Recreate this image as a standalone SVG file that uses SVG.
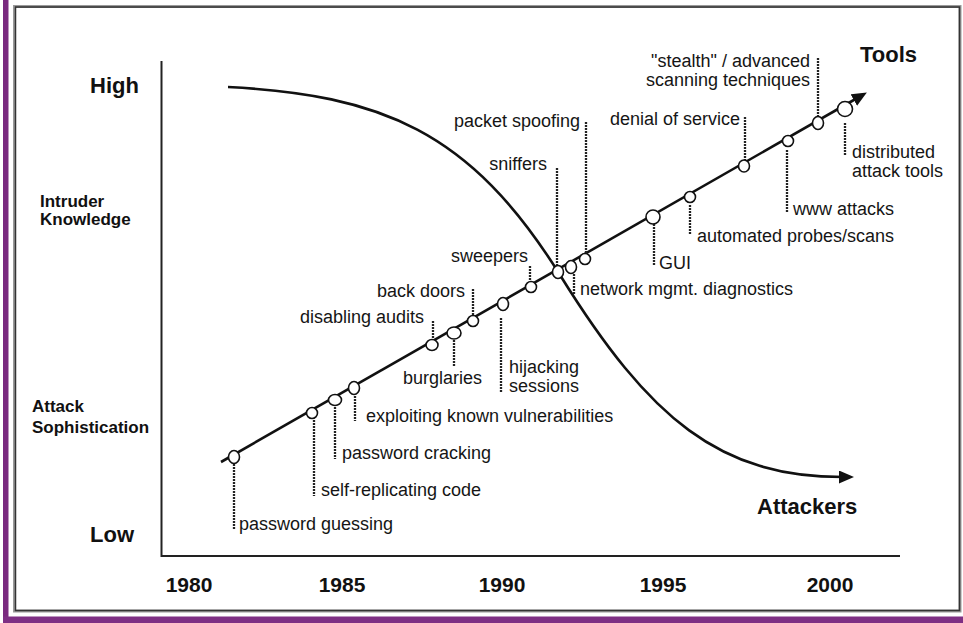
<svg xmlns="http://www.w3.org/2000/svg" width="963" height="623" viewBox="0 0 963 623">
<style>
.lbl{font-family:"Liberation Sans",Arial,sans-serif;font-size:18px;fill:#151515}
.bold{font-family:"Liberation Sans",Arial,sans-serif;font-weight:bold;fill:#111}
.dash{stroke:#222;stroke-width:2.3;stroke-dasharray:2 1;fill:none}
.dot{fill:#fff;stroke:#111;stroke-width:1.6}
.main{fill:none;stroke:#111;stroke-width:2.6}
.axis{stroke:#222;stroke-width:2;fill:none}
</style>
<defs>
<marker id="ah" markerUnits="userSpaceOnUse" markerWidth="18" markerHeight="14" refX="4" refY="6.5" orient="auto">
<path d="M0,0 L15,6.5 L0,13 z" fill="#111"/>
</marker>
</defs>
<rect width="963" height="623" fill="#fff"/>
<!-- purple border -->
<rect x="3" y="0" width="5.5" height="623" fill="#7a2a7f"/>
<rect x="3" y="616.5" width="960" height="6.5" fill="#7e2f84"/>
<!-- frame -->
<rect x="14.5" y="6.5" width="945.5" height="604.5" fill="none" stroke="#9a9a9a" stroke-width="3"/>
<rect x="15.5" y="7" width="944" height="603.5" fill="none" stroke="#333" stroke-width="1.5"/>

<g id="axes">
<path class="axis" d="M161.5,61 V556 H900"/>
<text class="bold" x="90" y="93" font-size="22">High</text>
<text class="bold" x="90" y="542" font-size="22">Low</text>
<text class="bold" x="40" y="207" font-size="17">Intruder</text>
<text class="bold" x="40" y="225" font-size="17">Knowledge</text>
<text class="bold" x="32" y="412" font-size="17">Attack</text>
<text class="bold" x="32" y="433" font-size="17">Sophistication</text>
<g font-size="21" text-anchor="middle">
<text class="bold" x="189" y="592">1980</text>
<text class="bold" x="342" y="592">1985</text>
<text class="bold" x="502" y="592">1990</text>
<text class="bold" x="663" y="592">1995</text>
<text class="bold" x="830" y="592">2000</text>
</g>
</g>

<g id="connectors">
<path id="tools-line" class="main" d="M221,462 L857.3,98" marker-end="url(#ah)"/>
<path id="attackers-curve" class="main" d="M228,87 C380,95 470,130 560,275 C650,420 720,477 843,477" marker-end="url(#ah)"/>
<path class="dash" d="M234,464V530 M314,420V496 M335,407V459 M355,396V421 M433,321V339 M454,340V367 M473,289V315 M501,318V392 M530,266V281 M557,168V266 M574,274V295 M586,122V253 M654,224V265 M690,205V234 M745,117V160 M787,150V213 M818,58V117 M845,123V155"/>
</g>

<g id="tools-title"><text class="bold" x="860" y="62" font-size="22">Tools</text></g>
<g id="attackers-title"><text class="bold" x="757" y="514" font-size="22">Attackers</text></g>

<g id="n-password-guessing"><ellipse class="dot" cx="234" cy="457" rx="5.5" ry="6.5"/><text class="lbl" x="239" y="530">password guessing</text></g>
<g id="n-self-replicating"><ellipse class="dot" cx="312" cy="413" rx="5.5" ry="5.5"/><text class="lbl" x="321" y="496">self-replicating code</text></g>
<g id="n-password-cracking"><ellipse class="dot" cx="335" cy="400" rx="6.5" ry="5.5"/><text class="lbl" x="342" y="459">password cracking</text></g>
<g id="n-exploiting"><ellipse class="dot" cx="354" cy="388" rx="5.5" ry="6.5"/><text class="lbl" x="366" y="422">exploiting known vulnerabilities</text></g>
<g id="n-disabling-audits"><ellipse class="dot" cx="432" cy="345" rx="6" ry="5.5"/><text class="lbl" x="424" y="323" text-anchor="end">disabling audits</text></g>
<g id="n-burglaries"><ellipse class="dot" cx="454" cy="333" rx="7" ry="6"/><text class="lbl" x="403" y="384">burglaries</text></g>
<g id="n-back-doors"><ellipse class="dot" cx="473" cy="321" rx="5.5" ry="5.5"/><text class="lbl" x="465" y="297" text-anchor="end">back doors</text></g>
<g id="n-hijacking"><ellipse class="dot" cx="503" cy="304" rx="5.5" ry="6.5"/><text class="lbl" x="509" y="373">hijacking</text><text class="lbl" x="509" y="392">sessions</text></g>
<g id="n-sweepers"><ellipse class="dot" cx="531" cy="287" rx="5.5" ry="5.5"/><text class="lbl" x="528" y="262" text-anchor="end">sweepers</text></g>
<g id="n-sniffers"><ellipse class="dot" cx="558" cy="272" rx="5.5" ry="6.5"/><text class="lbl" x="547" y="170" text-anchor="end">sniffers</text></g>
<g id="n-network-mgmt"><ellipse class="dot" cx="571" cy="267" rx="5.5" ry="6.5"/><text class="lbl" x="580" y="295">network mgmt. diagnostics</text></g>
<g id="n-packet-spoofing"><ellipse class="dot" cx="585" cy="259" rx="5.5" ry="5.5"/><text class="lbl" x="580" y="127" text-anchor="end">packet spoofing</text></g>
<g id="n-gui"><ellipse class="dot" cx="653" cy="217" rx="7" ry="7"/><text class="lbl" x="659" y="269">GUI</text></g>
<g id="n-automated"><ellipse class="dot" cx="690" cy="197" rx="5.5" ry="5.5"/><text class="lbl" x="697" y="242">automated probes/scans</text></g>
<g id="n-dos"><ellipse class="dot" cx="744" cy="166" rx="5.5" ry="6"/><text class="lbl" x="740" y="125" text-anchor="end">denial of service</text></g>
<g id="n-www"><ellipse class="dot" cx="788" cy="141" rx="5.5" ry="5.5"/><text class="lbl" x="793" y="215">www attacks</text></g>
<g id="n-stealth"><ellipse class="dot" cx="818" cy="123" rx="5.5" ry="6.5"/><text class="lbl" x="810" y="67" text-anchor="end">"stealth" / advanced</text><text class="lbl" x="810" y="86" text-anchor="end">scanning techniques</text></g>
<g id="n-distributed"><ellipse class="dot" cx="845" cy="109" rx="7.5" ry="7.5"/><text class="lbl" x="852" y="158">distributed</text><text class="lbl" x="852" y="177">attack tools</text></g>
</svg>
